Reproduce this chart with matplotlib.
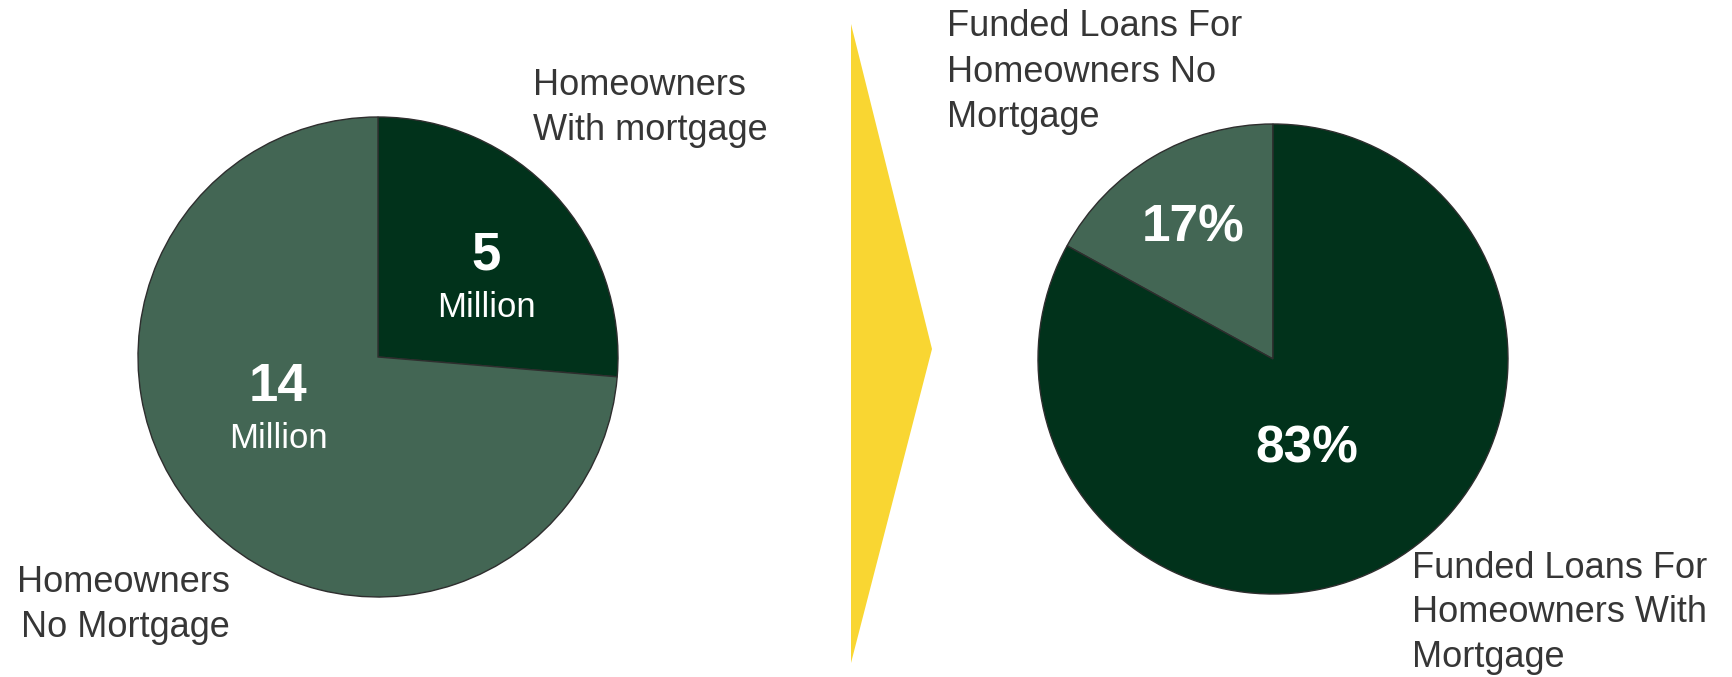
import matplotlib.pyplot as plt
from matplotlib.patches import Polygon

plt.rcParams['font.family'] = ['Liberation Sans', 'DejaVu Sans']

# homeowners split, millions
owner_groups = ['Homeowners\nWith mortgage', 'Homeowners\nNo Mortgage']
owner_counts = [5, 14]
owner_labels = ['5', '14']

# funded loans split, percent
loan_groups = ['Funded Loans For\nHomeowners No\nMortgage', 'Funded Loans For\nHomeowners With\nMortgage']
loan_shares = [17, 83]

DARK = '#01321b'
LIGHT = '#436654'
EDGE = '#2e2e2e'
TEXT = '#363636'
W, H = 1733, 677

fig = plt.figure(figsize=(W / 100, H / 100), dpi=100)
ax = fig.add_axes([0, 0, 1, 1])


def yy(y):
    # image rows run downwards, axes y runs upwards
    return H - y


ax.pie(owner_counts, colors=[DARK, LIGHT], startangle=90, counterclock=False,
       center=(378, yy(357)), radius=240,
       wedgeprops=dict(edgecolor=EDGE, linewidth=1))
ax.pie(loan_shares, colors=[LIGHT, DARK], startangle=90, counterclock=True,
       center=(1273, yy(359)), radius=235,
       wedgeprops=dict(edgecolor=EDGE, linewidth=1))

# yellow chevron between the two pies
ax.add_patch(Polygon([(851, yy(24)), (932, yy(349)), (851, yy(663))],
                     closed=True, facecolor='#f9d632', edgecolor='none'))

ax.set_xlim(0, W)
ax.set_ylim(0, H)
ax.set_aspect('equal')
ax.axis('off')

# in-slice values
ax.text(486, yy(256), owner_labels[0], color='white', fontsize=38, fontweight='bold', ha='center', va='center')
ax.text(486, yy(308), 'Million', color='white', fontsize=25, ha='center', va='center')
ax.text(278, yy(387), owner_labels[1], color='white', fontsize=38, fontweight='bold', ha='center', va='center')
ax.text(278, yy(439), 'Million', color='white', fontsize=25, ha='center', va='center')
ax.text(1193, yy(228), f'{loan_shares[0]}%', color='white', fontsize=37, fontweight='bold', ha='center', va='center')
ax.text(1307, yy(449), f'{loan_shares[1]}%', color='white', fontsize=37, fontweight='bold', ha='center', va='center')

# outside category labels
ax.text(533, yy(108), owner_groups[0], color=TEXT, fontsize=26, ha='left', va='center', linespacing=1.4)
ax.text(230, yy(605), owner_groups[1], color=TEXT, fontsize=26, ha='right', va='center', linespacing=1.4)
ax.text(947, yy(72), loan_groups[0], color=TEXT, fontsize=26, ha='left', va='center', linespacing=1.4)
ax.text(1412, yy(613), loan_groups[1], color=TEXT, fontsize=26, ha='left', va='center', linespacing=1.37)

fig.savefig('out.png', dpi=100)
